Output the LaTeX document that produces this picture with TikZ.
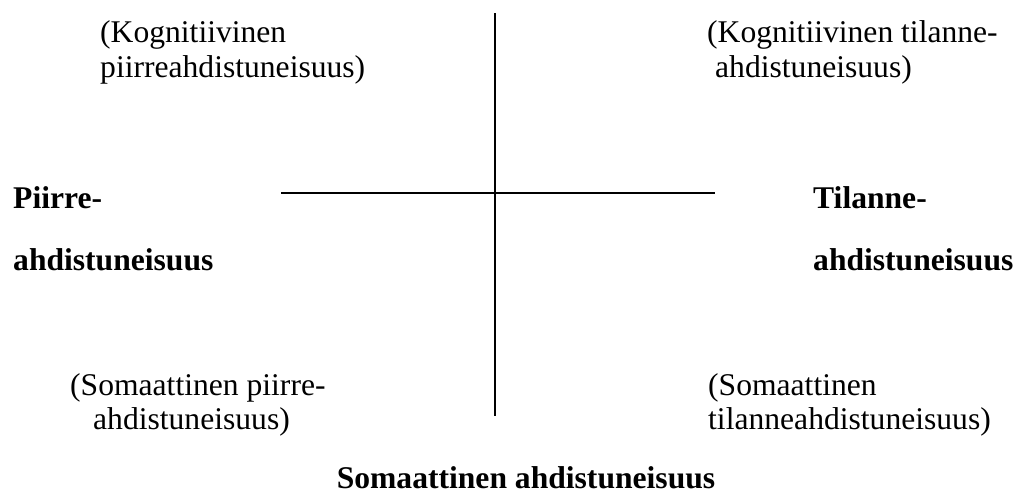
\documentclass[tikz,border=0pt]{standalone}
\usepackage{fontspec}
\setmainfont{Liberation Serif}
\usepackage{tikz}
\tikzset{
  axisline/.style={line width=2pt, black},
  note/.style={anchor=north west, inner sep=0pt, align=left, font=\fontsize{31.6}{34.5}\selectfont},
  sidelabel/.style={anchor=north west, inner sep=0pt, align=left, font=\fontsize{31.6}{62}\selectfont\bfseries}
}

\begin{document}
\begin{tikzpicture}[x=1pt, y=-1pt]
    \useasboundingbox (0,0) rectangle (1017,498);
    % axes
    \coordinate (vtop) at (495,13);
    \coordinate (vbot) at (495,416);
    \coordinate (hleft) at (281,193);
    \coordinate (hright) at (715,193);
    \draw[axisline] (vtop) -- (vbot);
    \draw[axisline] (hleft) -- (hright);
    % quadrant notes
    \node[note] (kogpiirre) at (100,18.4) {\strut(Kognitiivinen\\piirreahdistuneisuus)};
    \node[note] (kogtilanne) at (707,18.4) {\strut(Kognitiivinen tilanne-\\\hspace*{8pt}ahdistuneisuus)};
    \node[note] (sompiirre) at (70,370.9) {\strut(Somaattinen piirre-\\\hspace*{23pt}ahdistuneisuus)};
    \node[note] (somtilanne) at (708,370.9) {\strut(Somaattinen\\tilanneahdistuneisuus)};
    % side labels
    \node[sidelabel] (piirre) at (13,164.6) {\strut Piirre-\\ahdistuneisuus};
    \node[sidelabel] (tilanne) at (813,164.6) {\strut Tilanne-\\ahdistuneisuus};
    \node[anchor=base, inner sep=0pt, font=\fontsize{31.6}{34.5}\selectfont\bfseries] (somaattinen) at (526,488) {Somaattinen ahdistuneisuus};
\end{tikzpicture}
\end{document}
